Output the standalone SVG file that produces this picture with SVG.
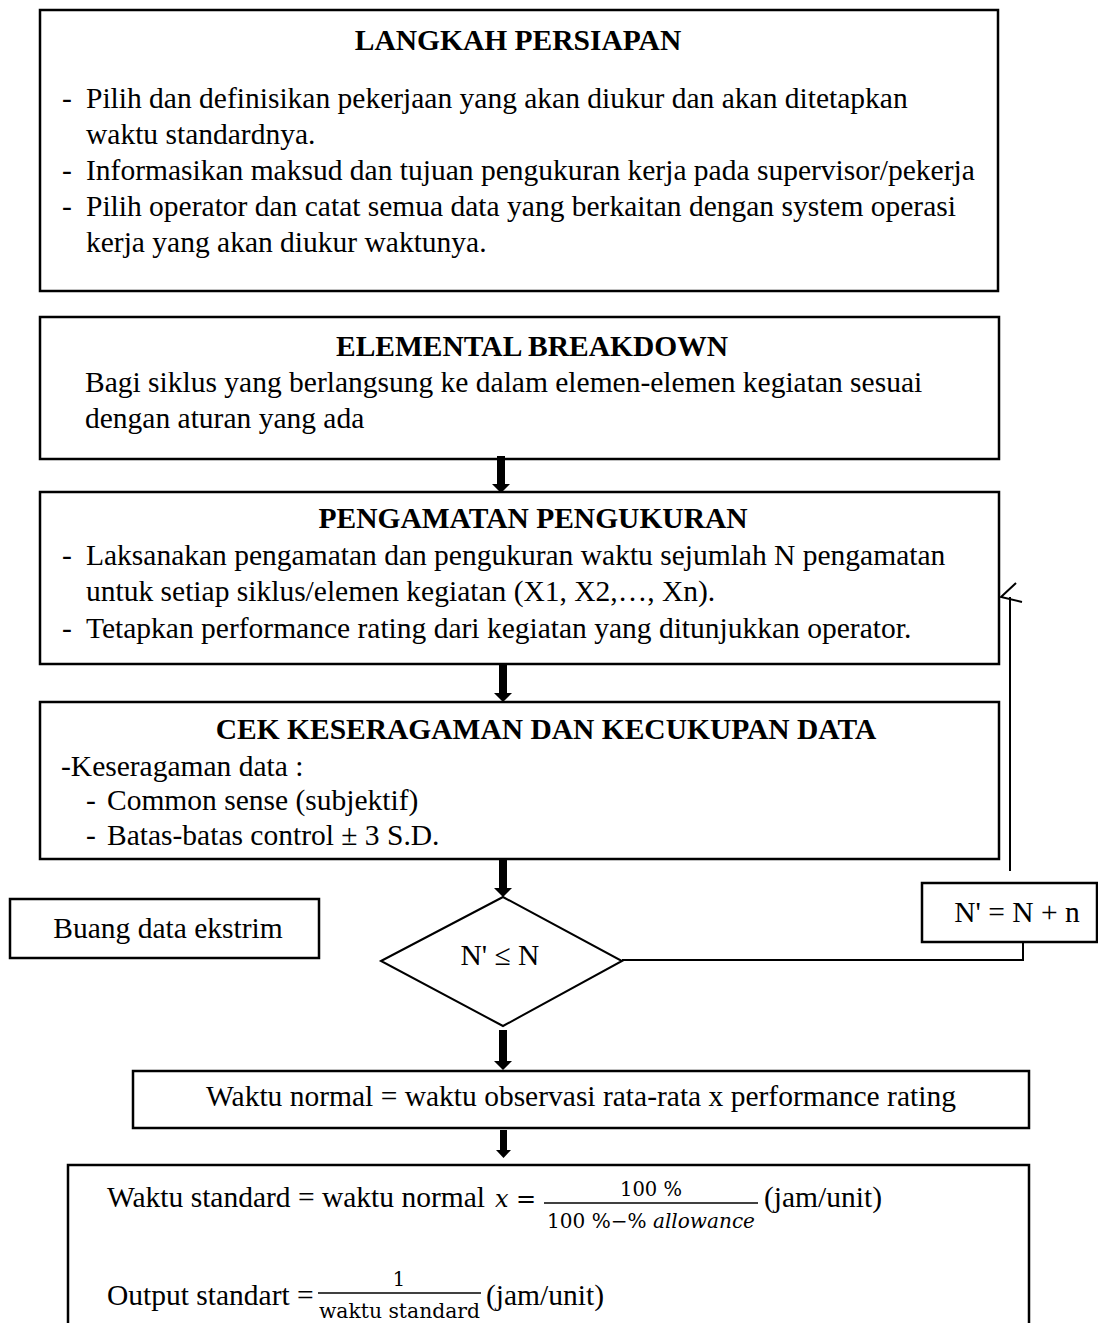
<svg xmlns="http://www.w3.org/2000/svg" width="1098" height="1323" viewBox="0 0 1098 1323">
<defs>
<style>
.box{fill:#fff;stroke:#000;stroke-width:2.5}
.t{font-family:"Liberation Serif","Times New Roman",serif;font-size:29.5px;fill:#000}
.b{font-weight:bold;text-anchor:middle}
.m{font-family:"DejaVu Serif","Liberation Serif",serif;font-size:19.5px;fill:#000}
.ln{stroke:#000;stroke-width:2;fill:none}
.arr{fill:#000}
</style>
</defs>
<rect width="1098" height="1323" fill="#fff"/>

<g id="langkah-persiapan">
<rect class="box" x="40" y="10" width="958" height="281"/>
<text class="t b" x="518" y="50">LANGKAH PERSIAPAN</text>
<text class="t" x="62" y="108">-</text>
<text class="t" x="86" y="108">Pilih dan definisikan pekerjaan yang akan diukur dan akan ditetapkan</text>
<text class="t" x="86" y="144">waktu standardnya.</text>
<text class="t" x="62" y="180">-</text>
<text class="t" x="86" y="180">Informasikan maksud dan tujuan pengukuran kerja pada supervisor/pekerja</text>
<text class="t" x="62" y="216">-</text>
<text class="t" x="86" y="216">Pilih operator dan catat semua data yang berkaitan dengan system operasi</text>
<text class="t" x="86" y="252">kerja yang akan diukur waktunya.</text>
</g>

<g id="elemental-breakdown">
<rect class="box" x="40" y="317" width="959" height="142"/>
<text class="t b" x="532" y="356">ELEMENTAL BREAKDOWN</text>
<text class="t" x="85" y="392">Bagi siklus yang berlangsung ke dalam elemen-elemen kegiatan sesuai</text>
<text class="t" x="85" y="428">dengan aturan yang ada</text>
</g>

<g id="pengamatan-pengukuran">
<rect class="box" x="40" y="492" width="959" height="172"/>
<text class="t b" x="533" y="528">PENGAMATAN PENGUKURAN</text>
<text class="t" x="62" y="565">-</text>
<text class="t" x="86" y="565">Laksanakan pengamatan dan pengukuran waktu sejumlah N pengamatan</text>
<text class="t" x="86" y="601">untuk setiap siklus/elemen kegiatan (X1, X2,…, Xn).</text>
<text class="t" x="62" y="638">-</text>
<text class="t" x="86" y="638">Tetapkan performance rating dari kegiatan yang ditunjukkan operator.</text>
</g>

<g id="cek-keseragaman">
<rect class="box" x="40" y="702" width="959" height="157"/>
<text class="t b" x="546" y="739">CEK KESERAGAMAN DAN KECUKUPAN DATA</text>
<text class="t" x="61" y="776">-Keseragaman data :</text>
<text class="t" x="86" y="810">-</text>
<text class="t" x="107" y="810">Common sense (subjektif)</text>
<text class="t" x="86" y="845">-</text>
<text class="t" x="107" y="845">Batas-batas control ± 3 S.D.</text>
</g>

<g id="buang-data">
<rect class="box" x="10" y="899" width="309" height="59"/>
<text class="t" x="168" y="938" text-anchor="middle">Buang data ekstrim</text>
</g>

<g id="decision">
<polygon points="381,961 503,897 622,961 503,1026" fill="#fff" stroke="#000" stroke-width="2"/>
<text class="t" x="500" y="965" text-anchor="middle">N' ≤ N</text>
</g>

<g id="n-update">
<rect class="box" x="922" y="883" width="175" height="59"/>
<text class="t" x="1017" y="922" text-anchor="middle">N' = N + n</text>
</g>

<g id="waktu-normal">
<rect class="box" x="133" y="1071" width="896" height="57"/>
<text class="t" x="581" y="1106" text-anchor="middle" font-size="31">Waktu normal = waktu observasi rata-rata x performance rating</text>
</g>

<g id="waktu-standard">
<path class="box" d="M68,1330 V1165 H1029 V1330"/>
<text class="t" x="107" y="1207">Waktu standard = waktu normal</text>
<text x="495" y="1207" font-family="DejaVu Serif, serif" font-style="italic" font-size="24">x</text>
<text x="516" y="1207" font-family="DejaVu Serif, serif" font-size="24">=</text>
<text class="m" x="651" y="1196" text-anchor="middle">100 %</text>
<line x1="544" y1="1203" x2="758" y2="1203" stroke="#000" stroke-width="1.5"/>
<text class="m" x="547" y="1228" textLength="208" lengthAdjust="spacingAndGlyphs">100 %−% <tspan font-style="italic">allowance</tspan></text>
<text class="t" x="764" y="1207">(jam/unit)</text>
<text class="t" x="107" y="1305">Output standart =</text>
<text class="m" x="399" y="1286" text-anchor="middle">1</text>
<line x1="318" y1="1293" x2="481" y2="1293" stroke="#000" stroke-width="1.5"/>
<text class="m" x="319" y="1318" textLength="161" lengthAdjust="spacingAndGlyphs">waktu standard</text>
<text class="t" x="486" y="1305">(jam/unit)</text>
</g>

<g id="connectors">
<polygon class="arr" points="497,456 505,456 505,484 510,484 501,493 492,484 497,484"/>
<polygon class="arr" points="499,664 507,664 507,693 512,693 503,702 494,693 499,693"/>
<polygon class="arr" points="499,859 507,859 507,888 512,888 503,897 494,888 499,888"/>
<polygon class="arr" points="499,1030 507,1030 507,1061 512,1061 503,1070 494,1061 499,1061"/>
<polygon class="arr" points="500,1130 507,1130 507,1150 511,1150 503.5,1158 496,1150 500,1150"/>
<polyline class="ln" points="622,960 1023,960 1023,942"/>
<line class="ln" x1="1010" y1="871" x2="1010" y2="597"/>
<polyline class="ln" points="1016,583 1001,597 1022,602"/>
</g>
</svg>
